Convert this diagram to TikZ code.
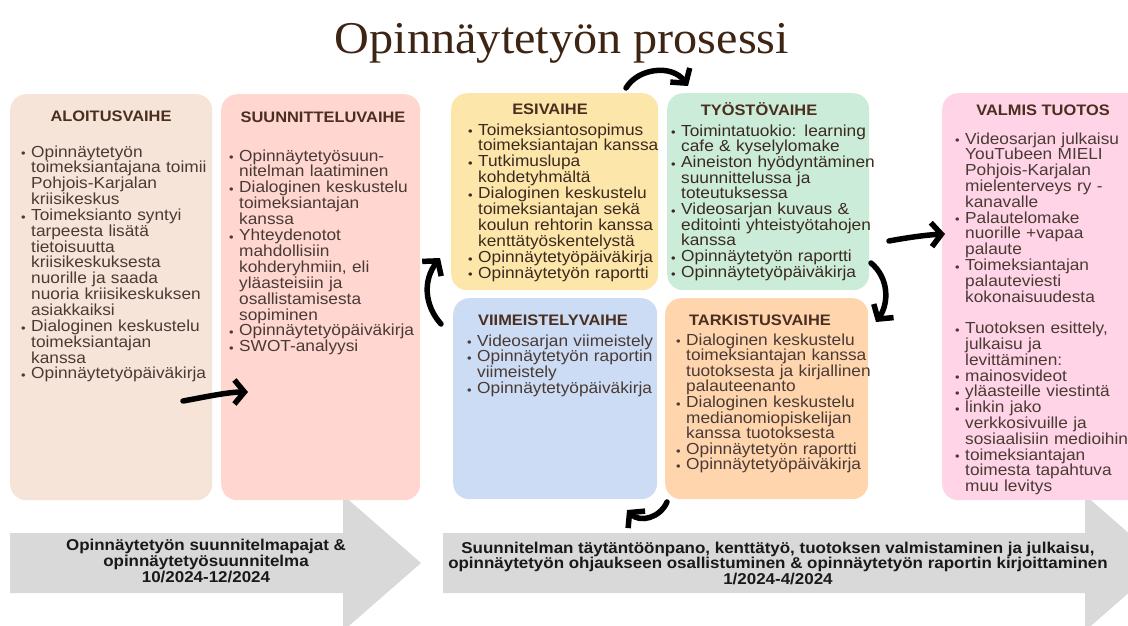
\documentclass[tikz,border=0pt]{standalone}
\usepackage{fontspec}
\setmainfont{Liberation Sans}[FakeStretch=1.08]
\newfontfamily\titlefont{Liberation Serif}[FakeStretch=1.06]
\usetikzlibrary{arrows.meta}
\definecolor{titlec}{HTML}{3E2413}
\definecolor{headtxt}{HTML}{4A2E20}
\definecolor{bodytxt}{HTML}{4A3A35}
\definecolor{darktxt}{HTML}{3B2A1E}
\definecolor{cAlo}{HTML}{F7E4D8}
\definecolor{cSuu}{HTML}{FFD6D0}
\definecolor{cEsi}{HTML}{FDE6AA}
\definecolor{cTyo}{HTML}{CAECD9}
\definecolor{cVii}{HTML}{CCDCF5}
\definecolor{cTar}{HTML}{FFD5AE}
\definecolor{cVal}{HTML}{FFD4E6}
\definecolor{cGray}{HTML}{D9D9D9}
\newcommand{\pbul}{\makebox[10pt][l]{\raisebox{-0.1ex}{\fontsize{12}{12}\selectfont •}}}
\newcommand{\pind}{\hspace*{10pt}}
\tikzset{
  boxbg/.style={rounded corners=16pt, inner sep=0pt, anchor=north west, draw=none},
  blist/.style={anchor=base west, inner sep=0pt, text width=260pt, align=left, text=bodytxt},
  headtext/.style={font=\bfseries\fontsize{15.2}{15.2}\selectfont, text=headtxt, inner sep=0pt, anchor=base},
  graytext/.style={font=\bfseries\fontsize{15.7}{14.5}\selectfont, text=black!90, align=center, inner sep=0pt},
  blk/.style={line width=5.5pt, line cap=round, -{Straight Barb[length=10pt,width=24pt]}},
}
\begin{document}
\begin{tikzpicture}[x=1pt,y=-1pt]
\useasboundingbox (0,0) rectangle (1128,625);
\clip (0,0) rectangle (1128,625);

% title
\node[font=\titlefont\fontsize{45.5}{45.5}\selectfont, text=titlec, anchor=base, inner sep=0pt] (title) at (562,53) {Opinnäytetyön prosessi};

% gray timeline arrows
\fill[cGray] (10,533) -- (343,533) -- (343,495) -- (421,563) -- (343,631) -- (343,593) -- (10,593) -- cycle;
\fill[cGray] (443,533) -- (1085,533) -- (1085,495) -- (1163,563) -- (1085,631) -- (1085,593) -- (443,593) -- cycle;
\node[graytext] (t1) at (206,561) {Opinnäytetyön suunnitelmapajat \&\\opinnäytetyösuunnitelma\\10/2024-12/2024};
\node[graytext, font=\bfseries\fontsize{15.7}{15.5}\selectfont] (t2) at (778,563) {Suunnitelman täytäntöönpano, kenttätyö, tuotoksen valmistaminen ja julkaisu,\\opinnäytetyön ohjaukseen osallistuminen \& opinnäytetyön raportin kirjoittaminen\\1/2024-4/2024};

% boxes
\node[boxbg, fill=cAlo, minimum width=202pt, minimum height=406pt] (aloitus) at (10,94) {};
\node[boxbg, fill=cSuu, minimum width=199pt, minimum height=406pt] (suunn) at (221,94) {};
\node[boxbg, fill=cEsi, minimum width=207pt, minimum height=197pt] (esi) at (451,93) {};
\node[boxbg, fill=cTyo, minimum width=202pt, minimum height=197pt] (tyosto) at (667,93) {};
\node[boxbg, fill=cVii, minimum width=204pt, minimum height=201pt] (viim) at (453,298) {};
\node[boxbg, fill=cTar, minimum width=203pt, minimum height=201pt] (tark) at (665,298) {};
\node[boxbg, fill=cVal, minimum width=220pt, minimum height=407pt] (valmis) at (942,93) {};

% headings
\node[headtext] (h1) at (111,121) {ALOITUSVAIHE};
\node[headtext] (h2) at (323,122) {SUUNNITTELUVAIHE};
\node[headtext] (h3) at (550,114) {ESIVAIHE};
\node[headtext] (h4) at (759,115) {TYÖSTÖVAIHE};
\node[headtext] (h5) at (553,325) {VIIMEISTELYVAIHE};
\node[headtext] (h6) at (760,325) {TARKISTUSVAIHE};
\node[headtext] (h7) at (1043,115) {VALMIS TUOTOS};

% lists
\node[blist, font=\fontsize{16}{15.85}\selectfont] (l1) at (21,157) {%
\pbul Opinnäytetyön\\
\pind toimeksiantajana toimii\\
\pind Pohjois-Karjalan\\
\pind kriisikeskus\\
\pbul Toimeksianto syntyi\\
\pind tarpeesta lisätä\\
\pind tietoisuutta\\
\pind kriisikeskuksesta\\
\pind nuorille ja saada\\
\pind nuoria kriisikeskuksen\\
\pind asiakkaiksi\\
\pbul Dialoginen keskustelu\\
\pind toimeksiantajan\\
\pind kanssa\\
\pbul Opinnäytetyöpäiväkirja};

\node[blist, font=\fontsize{16}{15.9}\selectfont] (l2) at (229,161) {%
\pbul Opinnäytetyösuun-\\
\pind nitelman laatiminen\\
\pbul Dialoginen keskustelu\\
\pind toimeksiantajan\\
\pind kanssa\\
\pbul Yhteydenotot\\
\pind mahdollisiin\\
\pind kohderyhmiin, eli\\
\pind yläasteisiin ja\\
\pind osallistamisesta\\
\pind sopiminen\\
\pbul Opinnäytetyöpäiväkirja\\
\pbul SWOT-analyysi};

\node[blist, text=darktxt, font=\fontsize{16}{15.9}\selectfont] (l3) at (468,135) {%
\pbul Toimeksiantosopimus\\
\pind toimeksiantajan kanssa\\
\pbul Tutkimuslupa\\
\pind kohdetyhmältä\\
\pbul Dialoginen keskustelu\\
\pind toimeksiantajan sekä\\
\pind koulun rehtorin kanssa\\
\pind kenttätyöskentelystä\\
\pbul Opinnäytetyöpäiväkirja\\
\pbul Opinnäytetyön raportti};

\node[blist, text=darktxt, font=\fontsize{16}{15.7}\selectfont] (l4) at (671,136) {%
\pbul Toimintatuokio: learning\\
\pind cafe \& kyselylomake\\
\pbul Aineiston hyödyntäminen\\
\pind suunnittelussa ja\\
\pind toteutuksessa\\
\pbul Videosarjan kuvaus \&\\
\pind editointi yhteistyötahojen\\
\pind kanssa\\
\pbul Opinnäytetyön raportti\\
\pbul Opinnäytetyöpäiväkirja};

\node[blist, font=\fontsize{16}{15.9}\selectfont] (l5) at (467,346) {%
\pbul Videosarjan viimeistely\\
\pbul Opinnäytetyön raportin\\
\pind viimeistely\\
\pbul Opinnäytetyöpäiväkirja};

\node[blist, font=\fontsize{16}{15.6}\selectfont] (l6) at (676,345) {%
\pbul Dialoginen keskustelu\\
\pind toimeksiantajan kanssa\\
\pind tuotoksesta ja kirjallinen\\
\pind palauteenanto\\
\pbul Dialoginen keskustelu\\
\pind medianomiopiskelijan\\
\pind kanssa tuotoksesta\\
\pbul Opinnäytetyön raportti\\
\pbul Opinnäytetyöpäiväkirja};

\node[blist, font=\fontsize{16}{15.8}\selectfont] (l7) at (955,144) {%
\pbul Videosarjan julkaisu\\
\pind YouTubeen MIELI\\
\pind Pohjois-Karjalan\\
\pind mielenterveys ry -\\
\pind kanavalle\\
\pbul Palautelomake\\
\pind nuorille +vapaa\\
\pind palaute\\
\pbul Toimeksiantajan\\
\pind palauteviesti\\
\pind kokonaisuudesta\\[15.8pt]
\pbul Tuotoksen esittely,\\
\pind julkaisu ja\\
\pind levittäminen:\\
\pbul mainosvideot\\
\pbul yläasteille viestintä\\
\pbul linkin jako\\
\pind verkkosivuille ja\\
\pind sosiaalisiin medioihin\\
\pbul toimeksiantajan\\
\pind toimesta tapahtuva\\
\pind muu levitys};

% connector end points
\coordinate (a1s) at (183,401); \coordinate (a1e) at (248,392);
\coordinate (a2s) at (441,324); \coordinate (a2e) at (440,258);
\coordinate (a3s) at (626,88);  \coordinate (a3e) at (688,86);
\coordinate (a4s) at (871,263); \coordinate (a4e) at (876,322);
\coordinate (a5s) at (889,241); \coordinate (a5e) at (945,234);
\coordinate (a6s) at (667,502); \coordinate (a6e) at (627,510);

% black hand-drawn arrows
\draw[blk] (a1s) .. controls (205,397) and (228,392) .. (a1e);
\draw[blk] (a2s) .. controls (424,305) and (423,280) .. (a2e);
\draw[blk] (a3s) .. controls (638,68) and (672,64) .. (a3e);
\draw[blk] (a4s) .. controls (889,278) and (889,303) .. (a4e);
\draw[blk] (a5s) .. controls (905,238) and (925,235) .. (a5e);
\draw[blk] (a6s) .. controls (660,518) and (640,523) .. (a6e);
\end{tikzpicture}
\end{document}
